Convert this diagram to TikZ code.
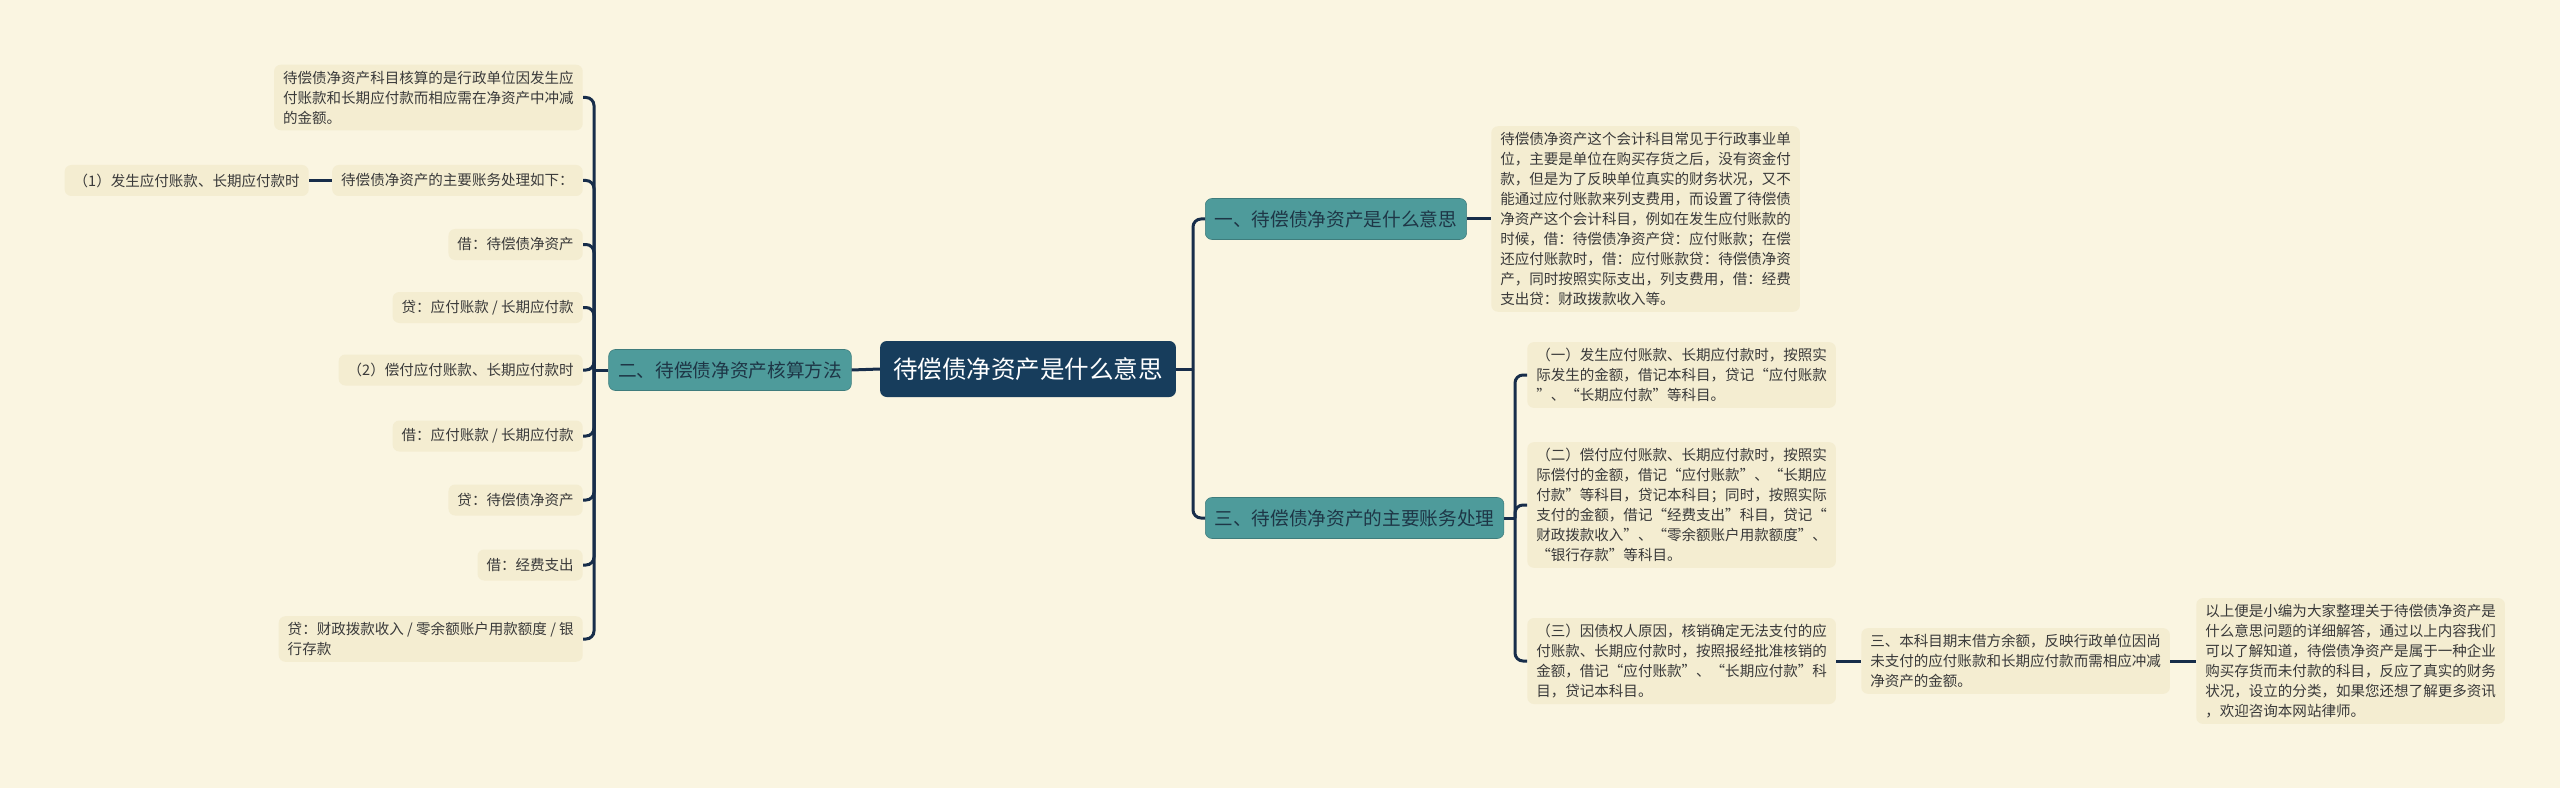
\documentclass[tikz,border=0pt]{standalone}
\usepackage{fontspec}
\setmainfont{Noto Sans CJK SC}
\definecolor{bgc}{HTML}{FAF5E1}
\definecolor{leafc}{HTML}{F4EDD1}
\definecolor{leaftext}{HTML}{3A3A3A}
\definecolor{tealc}{HTML}{4E9B9B}
\definecolor{tealtext}{HTML}{1E3646}
\definecolor{navyc}{HTML}{173D5C}
\definecolor{linec}{HTML}{172D4A}
\begin{document}
\begin{tikzpicture}[x=0.75pt,y=-0.75pt,
  leaf/.style={fill=leafc, rounded corners=5pt, inner xsep=6.75pt, inner ysep=4.5pt,
    minimum height=23.25pt, align=left, text=leaftext, font=\fontsize{10.9}{15}\selectfont},
  branch/.style={fill=tealc, draw=tealc!80!black, line width=0.4pt, rounded corners=5pt, inner xsep=7pt, inner ysep=0pt,
    minimum height=30.75pt, text=tealtext, font=\fontsize{14}{17}\selectfont},
  rootbox/.style={fill=navyc, rounded corners=5pt, inner xsep=9.75pt, inner ysep=0pt,
    minimum height=42pt, text=white, font=\fontsize{18.4}{22}\selectfont},
  link/.style={draw=linec, line width=2.25pt, rounded corners=6pt}]
\useasboundingbox (0,0) rectangle (2560,788);
\fill[bgc] (0,0) rectangle (2560,788);

% root and branches
\node[rootbox] (root) at (1028,369) {待偿债净资产是什么意思};
\node[branch] (b2) at (730,370) {二、待偿债净资产核算方法};
\node[branch, anchor=west] (b1) at (1205,219) {一、待偿债净资产是什么意思};
\node[branch, anchor=west] (b3) at (1205,518) {三、待偿债净资产的主要账务处理};

% left leaves
\node[leaf, anchor=east] (L1) at (583,97.5) {待偿债净资产科目核算的是行政单位因发生应\\付账款和长期应付款而相应需在净资产中冲减\\的金额。};
\node[leaf, anchor=east] (L2) at (583,180.5) {待偿债净资产的主要账务处理如下：};
\node[leaf, anchor=east] (L2a) at (309,180.5) {（1）发生应付账款、长期应付款时};
\node[leaf, anchor=east] (L3) at (583,244.5) {借：待偿债净资产};
\node[leaf, anchor=east] (L4) at (583,307.5) {贷：应付账款 / 长期应付款};
\node[leaf, anchor=east] (L5) at (583,370) {（2）偿付应付账款、长期应付款时};
\node[leaf, anchor=east] (L6) at (583,436) {借：应付账款 / 长期应付款};
\node[leaf, anchor=east] (L7) at (583,500) {贷：待偿债净资产};
\node[leaf, anchor=east] (L8) at (583,565) {借：经费支出};
\node[leaf, anchor=east] (L9) at (583,639) {贷：财政拨款收入 / 零余额账户用款额度 / 银\\行存款};

% right leaves
\node[leaf, anchor=west] (D1) at (1491,219) {待偿债净资产这个会计科目常见于行政事业单\\位，主要是单位在购买存货之后，没有资金付\\款，但是为了反映单位真实的财务状况，又不\\能通过应付账款来列支费用，而设置了待偿债\\净资产这个会计科目，例如在发生应付账款的\\时候，借：待偿债净资产贷：应付账款；在偿\\还应付账款时，借：应付账款贷：待偿债净资\\产，同时按照实际支出，列支费用，借：经费\\支出贷：财政拨款收入等。};
\node[leaf, anchor=west] (R1) at (1527,375) {（一）发生应付账款、长期应付款时，按照实\\际发生的金额，借记本科目，贷记“应付账款\\”、“长期应付款”等科目。};
\node[leaf, anchor=west] (R2) at (1527,505) {（二）偿付应付账款、长期应付款时，按照实\\际偿付的金额，借记“应付账款”、“长期应\\付款”等科目，贷记本科目；同时，按照实际\\支付的金额，借记“经费支出”科目，贷记“\\财政拨款收入”、“零余额账户用款额度”、\\“银行存款”等科目。};
\node[leaf, anchor=west] (R3) at (1527,661) {（三）因债权人原因，核销确定无法支付的应\\付账款、长期应付款时，按照报经批准核销的\\金额，借记“应付账款”、“长期应付款”科\\目，贷记本科目。};
\node[leaf, anchor=west] (R4) at (1861,661) {三、本科目期末借方余额，反映行政单位因尚\\未支付的应付账款和长期应付款而需相应冲减\\净资产的金额。};
\node[leaf, anchor=west] (R5) at (2196,661) {以上便是小编为大家整理关于待偿债净资产是\\什么意思问题的详细解答，通过以上内容我们\\可以了解知道，待偿债净资产是属于一种企业\\购买存货而未付款的科目，反应了真实的财务\\状况，设立的分类，如果您还想了解更多资讯\\，欢迎咨询本网站律师。};

% junctions
\coordinate (jL) at (594,370);
\coordinate (jR) at (1193,369);
\coordinate (jS) at (1515,518);

% connectors
\draw[link] (root.west) -- (b2.east);
\draw[link] (b2.west) -- (jL);
\foreach \n in {L1,L2,L3,L4,L5,L6,L7,L8,L9}{\draw[link] (jL) |- (\n.east);}
\draw[link] (L2.west) -- (L2a.east);
\draw[link] (root.east) -- (jR);
\draw[link] (jR) |- (b1.west);
\draw[link] (jR) |- (b3.west);
\draw[link] (b1.east) -- (D1.west);
\draw[link] (b3.east) -- (jS);
\foreach \n in {R1,R2,R3}{\draw[link] (jS) |- (\n.west);}
\draw[link] (R3.east) -- (R4.west);
\draw[link] (R4.east) -- (R5.west);
\end{tikzpicture}
\end{document}
